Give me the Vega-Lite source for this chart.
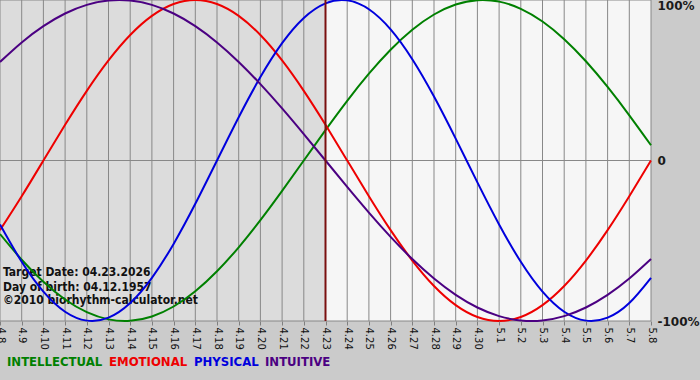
{
  "$schema": "https://vega.github.io/schema/vega-lite/v6.json",
  "width": 651,
  "height": 321,
  "autosize": {"type": "none"},
  "padding": {"left": 0, "top": 0, "right": 49, "bottom": 59},
  "background": "#cbcbcb",
  "config": {
    "view": {"stroke": null},
    "font": "DejaVu Sans"
  },
  "datasets": {
    "days": [
      {"d": 0, "date": "4.8", "INTELLECTUAL": -0.45823, "EMOTIONAL": -0.43388, "PHYSICAL": -0.39840, "INTUITIVE": 0.61421},
      {"d": 1, "date": "4.9", "INTELLECTUAL": -0.61816, "EMOTIONAL": -0.22252, "PHYSICAL": -0.63109, "INTUITIVE": 0.73572},
      {"d": 2, "date": "4.10", "INTELLECTUAL": -0.75575, "EMOTIONAL": 0, "PHYSICAL": -0.81697, "INTUITIVE": 0.83717},
      {"d": 3, "date": "4.11", "INTELLECTUAL": -0.86603, "EMOTIONAL": 0.22252, "PHYSICAL": -0.94226, "INTUITIVE": 0.91577},
      {"d": 4, "date": "4.12", "INTELLECTUAL": -0.94500, "EMOTIONAL": 0.43388, "PHYSICAL": -0.99767, "INTUITIVE": 0.96940},
      {"d": 5, "date": "4.13", "INTELLECTUAL": -0.98982, "EMOTIONAL": 0.62349, "PHYSICAL": -0.97908, "INTUITIVE": 0.99658},
      {"d": 6, "date": "4.14", "INTELLECTUAL": -0.99887, "EMOTIONAL": 0.78183, "PHYSICAL": -0.88789, "INTUITIVE": 0.99658},
      {"d": 7, "date": "4.15", "INTELLECTUAL": -0.97181, "EMOTIONAL": 0.90097, "PHYSICAL": -0.73084, "INTUITIVE": 0.96940},
      {"d": 8, "date": "4.16", "INTELLECTUAL": -0.90963, "EMOTIONAL": 0.97493, "PHYSICAL": -0.51958, "INTUITIVE": 0.91577},
      {"d": 9, "date": "4.17", "INTELLECTUAL": -0.81458, "EMOTIONAL": 1, "PHYSICAL": -0.26980, "INTUITIVE": 0.83717},
      {"d": 10, "date": "4.18", "INTELLECTUAL": -0.69007, "EMOTIONAL": 0.97493, "PHYSICAL": 0, "INTUITIVE": 0.73572},
      {"d": 11, "date": "4.19", "INTELLECTUAL": -0.54064, "EMOTIONAL": 0.90097, "PHYSICAL": 0.26980, "INTUITIVE": 0.61421},
      {"d": 12, "date": "4.20", "INTELLECTUAL": -0.37166, "EMOTIONAL": 0.78183, "PHYSICAL": 0.51958, "INTUITIVE": 0.47595},
      {"d": 13, "date": "4.21", "INTELLECTUAL": -0.18925, "EMOTIONAL": 0.62349, "PHYSICAL": 0.73084, "INTUITIVE": 0.32470},
      {"d": 14, "date": "4.22", "INTELLECTUAL": 0, "EMOTIONAL": 0.43388, "PHYSICAL": 0.88789, "INTUITIVE": 0.16459},
      {"d": 15, "date": "4.23", "INTELLECTUAL": 0.18925, "EMOTIONAL": 0.22252, "PHYSICAL": 0.97908, "INTUITIVE": 0},
      {"d": 16, "date": "4.24", "INTELLECTUAL": 0.37166, "EMOTIONAL": 0, "PHYSICAL": 0.99767, "INTUITIVE": -0.16459},
      {"d": 17, "date": "4.25", "INTELLECTUAL": 0.54064, "EMOTIONAL": -0.22252, "PHYSICAL": 0.94226, "INTUITIVE": -0.32470},
      {"d": 18, "date": "4.26", "INTELLECTUAL": 0.69007, "EMOTIONAL": -0.43388, "PHYSICAL": 0.81697, "INTUITIVE": -0.47595},
      {"d": 19, "date": "4.27", "INTELLECTUAL": 0.81458, "EMOTIONAL": -0.62349, "PHYSICAL": 0.63109, "INTUITIVE": -0.61421},
      {"d": 20, "date": "4.28", "INTELLECTUAL": 0.90963, "EMOTIONAL": -0.78183, "PHYSICAL": 0.39840, "INTUITIVE": -0.73572},
      {"d": 21, "date": "4.29", "INTELLECTUAL": 0.97181, "EMOTIONAL": -0.90097, "PHYSICAL": 0.13617, "INTUITIVE": -0.83717},
      {"d": 22, "date": "4.30", "INTELLECTUAL": 0.99887, "EMOTIONAL": -0.97493, "PHYSICAL": -0.13617, "INTUITIVE": -0.91577},
      {"d": 23, "date": "5.1", "INTELLECTUAL": 0.98982, "EMOTIONAL": -1, "PHYSICAL": -0.39840, "INTUITIVE": -0.96940},
      {"d": 24, "date": "5.2", "INTELLECTUAL": 0.94500, "EMOTIONAL": -0.97493, "PHYSICAL": -0.63109, "INTUITIVE": -0.99658},
      {"d": 25, "date": "5.3", "INTELLECTUAL": 0.86603, "EMOTIONAL": -0.90097, "PHYSICAL": -0.81697, "INTUITIVE": -0.99658},
      {"d": 26, "date": "5.4", "INTELLECTUAL": 0.75575, "EMOTIONAL": -0.78183, "PHYSICAL": -0.94226, "INTUITIVE": -0.96940},
      {"d": 27, "date": "5.5", "INTELLECTUAL": 0.61816, "EMOTIONAL": -0.62349, "PHYSICAL": -0.99767, "INTUITIVE": -0.91577},
      {"d": 28, "date": "5.6", "INTELLECTUAL": 0.45823, "EMOTIONAL": -0.43388, "PHYSICAL": -0.97908, "INTUITIVE": -0.83717},
      {"d": 29, "date": "5.7", "INTELLECTUAL": 0.28173, "EMOTIONAL": -0.22252, "PHYSICAL": -0.88789, "INTUITIVE": -0.73572},
      {"d": 30, "date": "5.8", "INTELLECTUAL": 0.09506, "EMOTIONAL": 0, "PHYSICAL": -0.73084, "INTUITIVE": -0.61421}
    ],
    "periods": [
      {"start": "4.8", "end": "4.23", "period": "before"},
      {"start": "4.23", "end": "5.8", "period": "after"}
    ],
    "levels": [{"v": -1}, {"v": 0}, {"v": 1}],
    "target": [{"date": "4.23"}],
    "notes": [
      {"date": "4.8", "v": -0.72, "label": "Target Date: 04.23.2026"},
      {"date": "4.8", "v": -0.813, "label": "Day of birth: 04.12.1957"},
      {"date": "4.8", "v": -0.894, "label": "©2010 biorhythm-calculator.net"}
    ]
  },
  "layer": [
    {
      "data": {"name": "periods"},
      "mark": {"type": "rect"},
      "encoding": {
        "x": {"field": "start", "type": "ordinal", "title": null,
              "scale": {"type": "point", "padding": 0, "domain": ["4.8","4.9","4.10","4.11","4.12","4.13","4.14","4.15","4.16","4.17","4.18","4.19","4.20","4.21","4.22","4.23","4.24","4.25","4.26","4.27","4.28","4.29","4.30","5.1","5.2","5.3","5.4","5.5","5.6","5.7","5.8"]}},
        "x2": {"field": "end"},
        "fill": {"field": "period", "type": "nominal", "legend": null,
                 "scale": {"domain": ["before", "after"], "range": ["#dcdcdc", "#f6f6f6"]}}
      }
    },
    {
      "data": {"name": "days"},
      "mark": {"type": "rule", "color": "#888888", "strokeWidth": 1},
      "encoding": {
        "x": {"field": "date", "type": "ordinal", "title": null,
              "scale": {"type": "point", "padding": 0, "domain": ["4.8","4.9","4.10","4.11","4.12","4.13","4.14","4.15","4.16","4.17","4.18","4.19","4.20","4.21","4.22","4.23","4.24","4.25","4.26","4.27","4.28","4.29","4.30","5.1","5.2","5.3","5.4","5.5","5.6","5.7","5.8"]}}
      }
    },
    {
      "data": {"name": "levels"},
      "mark": {"type": "rule", "color": "#888888", "strokeWidth": 1},
      "encoding": {
        "y": {"field": "v", "type": "quantitative", "title": null,
              "scale": {"domain": [-1, 1], "nice": false, "zero": false}}
      }
    },
    {
      "data": {"name": "notes"},
      "mark": {"type": "text", "align": "left", "baseline": "alphabetic", "dx": 3, "font": "DejaVu Sans Condensed", "fontSize": 12, "fontWeight": "bold", "color": "#111111"},
      "encoding": {
        "x": {"field": "date", "type": "ordinal", "title": null},
        "y": {"field": "v", "type": "quantitative", "title": null},
        "text": {"field": "label"}
      }
    },
    {
      "data": {"name": "days"},
      "transform": [{"fold": ["INTELLECTUAL", "EMOTIONAL", "PHYSICAL", "INTUITIVE"], "as": ["series", "value"]}],
      "mark": {"type": "line", "strokeWidth": 2, "interpolate": "natural"},
      "encoding": {
        "x": {"field": "date", "type": "ordinal", "title": null,
              "axis": {"orient": "bottom", "labelAngle": 90, "labelAlign": "left", "labelBaseline": "middle", "labelFontSize": 10, "labelColor": "#111111", "labelPadding": 2, "tickSize": 4, "tickColor": "#808080", "domain": false, "grid": false, "labelOverlap": false, "labelBound": false, "labelFlush": false}},
        "y": {"field": "value", "type": "quantitative", "title": null,
              "axis": {"orient": "right", "values": [-1, 0, 1], "labelExpr": "datum.value == 1 ? '100%' : datum.value == 0 ? '0' : '-100%'", "grid": false, "ticks": false, "domain": false, "labelFontSize": 12, "labelFontWeight": "bold", "labelColor": "#1a1a1a", "labelPadding": 6, "labelFlush": false, "labelOverlap": false, "labelBaseline": {"condition": {"test": "datum.value == 1", "value": "top"}, "value": "middle"}}},
        "color": {"field": "series", "type": "nominal",
                  "scale": {"domain": ["INTELLECTUAL", "EMOTIONAL", "PHYSICAL", "INTUITIVE"], "range": ["#008000", "#ee0000", "#0000dd", "#4b0082"]},
                  "legend": {"orient": "none", "legendX": 6, "legendY": 355, "direction": "horizontal", "title": null, "symbolType": "circle", "symbolSize": 0, "symbolStrokeWidth": 0, "symbolOpacity": 0, "labelOffset": -12, "columnPadding": 5, "labelFont": "DejaVu Sans Condensed", "labelFontSize": 13, "labelFontWeight": "bold",
                             "encode": {"labels": {"update": {"fill": {"scale": "color", "field": "value"}}}}}},
        "order": {"field": "d", "type": "quantitative"}
      }
    },
    {
      "data": {"name": "target"},
      "mark": {"type": "rule", "color": "#7a1010", "strokeWidth": 2},
      "encoding": {
        "x": {"field": "date", "type": "ordinal", "title": null}
      }
    }
  ]
}
